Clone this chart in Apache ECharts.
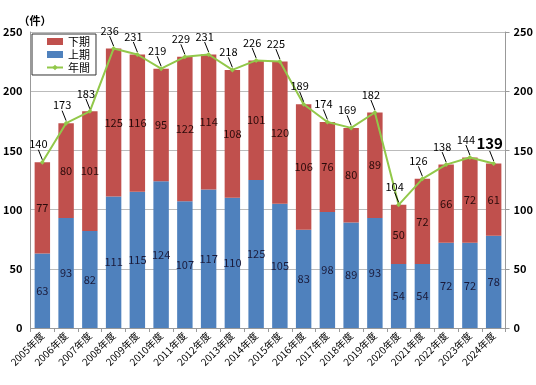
<!DOCTYPE html>
<html><head><meta charset="utf-8">
<script src="https://cdn.jsdelivr.net/npm/echarts@6/dist/echarts.min.js"></script>
<style>html,body{margin:0;padding:0;background:#fff}#c{width:536px;height:385px}</style>
</head><body><div id="c"></div>
<script>
const categories = ['2005年度','2006年度','2007年度','2008年度','2009年度','2010年度','2011年度','2012年度','2013年度','2014年度','2015年度','2016年度','2017年度','2018年度','2019年度','2020年度','2021年度','2022年度','2023年度','2024年度'];
const firstHalf = [63,93,82,111,115,124,107,117,110,125,105,83,98,89,93,54,54,72,72,78];
const secondHalf = [77,80,101,125,116,95,122,114,108,101,120,106,76,80,89,50,72,66,72,61];
const annual = [140,173,183,236,231,219,229,231,218,226,225,189,174,169,182,104,126,138,144,139];
const yTicks = [0,50,100,150,200,250];

const FONT = '"Noto Sans CJK JP", "Noto Sans", sans-serif';
const chart = echarts.init(document.getElementById('c'));
const annualData = annual.map((v,i)=> i===annual.length-1 ? {value:v,label:{fontSize:15,fontWeight:'bold'}} : v);
chart.setOption({
  animation:false,
  textStyle:{fontFamily:FONT},
  grid:{left:28,right:24,top:32,bottom:57,containLabel:false},
  legend:{
    orient:'vertical', left:32, top:34, itemGap:2, itemWidth:16, itemHeight:7,
    borderColor:'#333', borderWidth:1, padding:[2,6,2,14], backgroundColor:'#fff',
    textStyle:{fontFamily:FONT,fontSize:11,color:'#000'},
    data:[{name:'下期',icon:'rect'},{name:'上期',icon:'rect'},{name:'年間'}]
  },
  xAxis:{
    type:'category', data:categories,
    axisLine:{lineStyle:{color:'#999'}},
    axisTick:{show:true,length:4,lineStyle:{color:'#999'}},
    axisLabel:{rotate:45,fontSize:10,color:'#000',margin:6,interval:0,fontFamily:FONT}
  },
  yAxis:[{
    type:'value', min:0, max:250, interval:50,
    name:'（件）', nameGap:4, nameTextStyle:{fontSize:11,fontWeight:'bold',color:'#000',align:'left',padding:[0,0,0,-12]},
    axisLine:{show:true,lineStyle:{color:'#999'}},
    axisTick:{show:false},
    axisLabel:{fontSize:11,fontWeight:'bold',color:'#000',margin:8},
    splitLine:{lineStyle:{color:'#bbb'}}
  },{
    type:'value', min:0, max:250, interval:50, position:'right',
    axisLine:{show:true,lineStyle:{color:'#999'}},
    axisTick:{show:true,length:4,lineStyle:{color:'#999'}},
    axisLabel:{fontSize:11,fontWeight:'bold',color:'#000',margin:8},
    splitLine:{show:false}
  }],
  series:[
    {name:'上期',type:'bar',stack:'a',data:firstHalf,barWidth:'65%',
     itemStyle:{color:'#4F81BD'},
     label:{show:true,position:'inside',color:'#1a1a3a',fontSize:11}},
    {name:'下期',type:'bar',stack:'a',data:secondHalf,barWidth:'65%',
     itemStyle:{color:'#C0504D'},
     label:{show:true,position:'inside',color:'#2a0a0a',fontSize:11}},
    {name:'年間',type:'line',data:annualData,
     lineStyle:{color:'#92C84A',width:2},itemStyle:{color:'#92C84A'},
     symbol:'diamond',symbolSize:5,
     label:{show:true,position:'top',distance:4,color:'#000',fontSize:11},
     labelLayout:{dy:-6,dx:-4},
     labelLine:{show:true,lineStyle:{color:'#000',width:1}}}
  ]
});
</script></body></html>
